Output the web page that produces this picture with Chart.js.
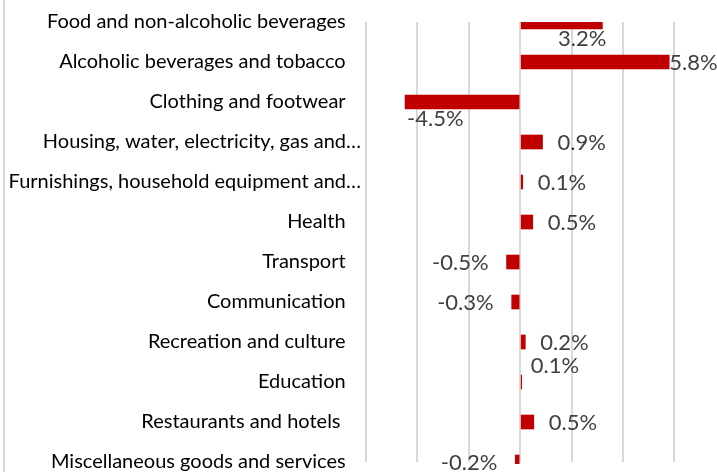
<!DOCTYPE html>
<html>
<head>
<meta charset="utf-8">
<script src="https://cdn.jsdelivr.net/npm/chart.js@4"></script>
<style>
  html, body { margin: 0; padding: 0; background: #fff; }
  canvas { display: block; }
</style>
</head>
<body>
<canvas id="grafico" width="717" height="472"></canvas>
<script>
  // Categorie e valori (variazione %)
  var categorie = [
    'Food and non-alcoholic beverages',
    'Alcoholic beverages and tobacco',
    'Clothing and footwear',
    'Housing, water, electricity, gas and\u2026',
    'Furnishings, household equipment and\u2026',
    'Health',
    'Transport',
    'Communication',
    'Recreation and culture',
    'Education',
    'Restaurants and hotels ',
    'Miscellaneous goods and services'
  ];
  var valori = [3.2, 5.8, -4.48, 0.87, 0.1, 0.49, -0.53, -0.33, 0.2, 0.06, 0.53, -0.19];

  // Tacche dell'asse x
  var tickX = [-6, -4, -2, 0, 2, 4, 6];

  // Dove mettere le etichette dei valori
  var posEtichette = ['below', 'end', 'below', 'out', 'out', 'out', 'out', 'out', 'out', 'above', 'out', 'out'];

  // Bordo sinistro grigio
  var bordoPlugin = {
    id: 'bordo',
    beforeDraw: function (chart) {
      var ctx = chart.ctx;
      ctx.save();
      ctx.strokeStyle = '#d9d9d9';
      ctx.lineWidth = 2;
      ctx.beginPath();
      ctx.moveTo(4, 0);
      ctx.lineTo(4, chart.height);
      ctx.stroke();
      ctx.restore();
    }
  };

  // Etichette dei valori
  var etichettePlugin = {
    id: 'etichette',
    afterDatasetsDraw: function (chart) {
      var ctx = chart.ctx;
      var meta = chart.getDatasetMeta(0);
      ctx.save();
      ctx.font = '22px Lato';
      ctx.fillStyle = '#404040';
      ctx.textBaseline = 'middle';
      meta.data.forEach(function (bar, i) {
        var v = valori[i];
        var testo = v.toFixed(1) + '%';
        var modo = posEtichette[i];
        var x, y;
        if (modo === 'below') {
          y = bar.y + 17;
          if (v >= 0) { ctx.textAlign = 'right'; x = bar.x + 4; }
          else { ctx.textAlign = 'left'; x = bar.x + 2; }
        } else if (modo === 'end') {
          ctx.textAlign = 'left'; x = bar.x; y = bar.y + 1;
        } else if (modo === 'above') {
          ctx.textAlign = 'left'; x = bar.x + 9; y = bar.y - 16;
        } else {
          y = bar.y + 1;
          if (v >= 0) { ctx.textAlign = 'left'; x = bar.x + 15; }
          else { ctx.textAlign = 'right'; x = bar.x - 18; }
        }
        ctx.fillText(testo, x, y);
      });
      ctx.restore();
    }
  };

  var canvas = document.getElementById('grafico').getContext('2d');

  var grafico = new Chart(canvas, {
    type: 'bar',
    data: {
      labels: categorie,
      datasets: [{
        data: valori,
        backgroundColor: '#c00000',
        borderWidth: 0,
        barThickness: 14,
        clip: { left: false, right: false, top: 0, bottom: 2 }
      }]
    },
    options: {
      indexAxis: 'y',
      responsive: false,
      maintainAspectRatio: false,
      animation: false,
      events: [],
      layout: { padding: { top: 22, bottom: 10, left: 0, right: 0 } },
      plugins: {
        legend: { display: false },
        tooltip: { enabled: false }
      },
      scales: {
        x: {
          min: -6,
          max: 7.66,
          afterBuildTicks: function (scale) {
            scale.ticks = tickX.map(function (v) { return { value: v }; });
          },
          afterFit: function (scale) { scale.height = 0; },
          ticks: { display: false },
          grid: { color: '#d9d9d9', lineWidth: 2, drawTicks: false },
          border: { display: false }
        },
        y: {
          offset: false,
          afterFit: function (scale) {
            scale.width = 366;
            scale.paddingTop = 0;
            scale.paddingBottom = 0;
          },
          grid: { display: false, drawTicks: false },
          border: { display: false },
          ticks: {
            padding: 5,
            color: '#000',
            font: { family: 'Lato', size: 20 },
            callback: function (val, i) {
              var t = categorie[i];
              return t.slice(-1) === '\u2026' ? t : t + '   ';
            }
          }
        }
      }
    },
    plugins: [bordoPlugin, etichettePlugin]
  });
</script>
</body>
</html>
